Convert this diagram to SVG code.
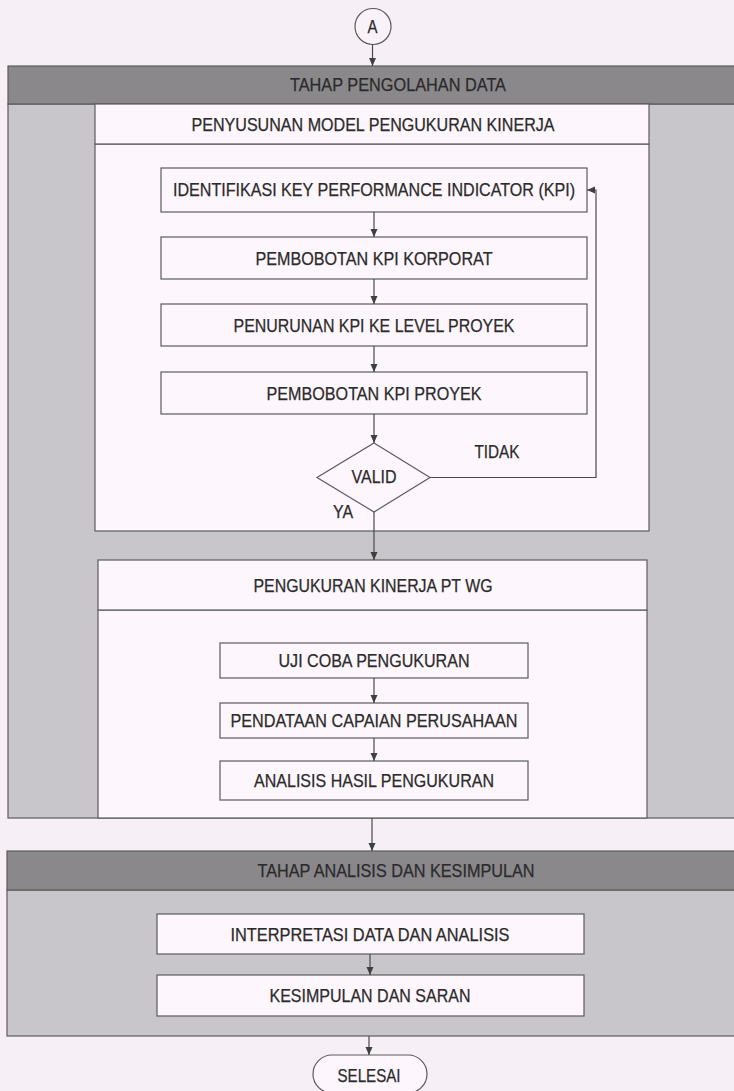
<svg xmlns="http://www.w3.org/2000/svg" width="734" height="1091" viewBox="0 0 734 1091">
  <defs>
    <style>
      .t{font-family:"Liberation Sans",Arial,sans-serif;font-size:18px;fill:#2b2b2b;text-anchor:middle;stroke:#2b2b2b;stroke-width:0.25}
      .box{fill:#fdf6fc;stroke:#5c5c5c;stroke-width:1.2}
      .band{fill:#8a888b;stroke:#5c5c5c;stroke-width:1.2}
      .panel{fill:#c9c6cb;stroke:#5c5c5c;stroke-width:1.2}
      .ln{stroke:#4a4a4a;stroke-width:1.2;fill:none}
    </style>
    <marker id="arr" markerUnits="userSpaceOnUse" markerWidth="8" markerHeight="8" refX="8" refY="4" orient="auto">
      <path d="M0,0.5 L8,4 L0,7.5 z" fill="#3f3f3f"/>
    </marker>
  </defs>

  <!-- page -->
  <rect x="0" y="0" width="734" height="1091" fill="#f7eff6"/>

  <!-- start connector -->
  <g id="start-a">
    <circle cx="373" cy="26.5" r="18" fill="#f9f2f8" stroke="#5c5c5c" stroke-width="1.2"/>
    <text class="t" x="372.5" y="32.5" font-size="16" textLength="10" lengthAdjust="spacingAndGlyphs">A</text>
  </g>

  <!-- stage: data processing -->
  <g id="stage-data">
    <rect class="panel" x="8" y="104" width="730" height="714"/>
    <rect class="band" x="8" y="66" width="730" height="38"/>
    <text class="t" x="398" y="91" textLength="216" lengthAdjust="spacingAndGlyphs">TAHAP PENGOLAHAN DATA</text>
  </g>

  <!-- model building container -->
  <g id="model-container">
    <rect class="box" x="95" y="144" width="554" height="387"/>
    <rect class="box" x="95" y="104" width="554" height="40"/>
    <text class="t" x="373" y="130.5" textLength="363" lengthAdjust="spacingAndGlyphs">PENYUSUNAN MODEL PENGUKURAN KINERJA</text>
  </g>

  <g id="kpi-identify">
    <rect class="box" x="161" y="168" width="426" height="44"/>
    <text class="t" x="374" y="196" textLength="402" lengthAdjust="spacingAndGlyphs">IDENTIFIKASI KEY PERFORMANCE INDICATOR (KPI)</text>
  </g>
  <g id="kpi-corporate-weight">
    <rect class="box" x="161" y="237" width="426" height="42"/>
    <text class="t" x="374" y="264.5" textLength="237" lengthAdjust="spacingAndGlyphs">PEMBOBOTAN KPI KORPORAT</text>
  </g>
  <g id="kpi-project-level">
    <rect class="box" x="161" y="304" width="426" height="42"/>
    <text class="t" x="374" y="331.5" textLength="281" lengthAdjust="spacingAndGlyphs">PENURUNAN KPI KE LEVEL PROYEK</text>
  </g>
  <g id="kpi-project-weight">
    <rect class="box" x="161" y="372" width="426" height="42"/>
    <text class="t" x="374" y="399.5" textLength="215" lengthAdjust="spacingAndGlyphs">PEMBOBOTAN KPI PROYEK</text>
  </g>
  <g id="valid-decision">
    <polygon class="box" points="374,443 430,477.5 374,512 317,477.5"/>
    <text class="t" x="374" y="483" textLength="45" lengthAdjust="spacingAndGlyphs">VALID</text>
  </g>

  <!-- performance measurement container -->
  <g id="measurement-container">
    <rect class="box" x="98" y="610" width="549" height="208"/>
    <rect class="box" x="98" y="560" width="549" height="50"/>
    <text class="t" x="373" y="591.5" textLength="239" lengthAdjust="spacingAndGlyphs">PENGUKURAN KINERJA PT WG</text>
  </g>
  <g id="trial-measure">
    <rect class="box" x="220" y="643" width="308" height="35"/>
    <text class="t" x="374" y="667" textLength="191" lengthAdjust="spacingAndGlyphs">UJI COBA PENGUKURAN</text>
  </g>
  <g id="achievement-data">
    <rect class="box" x="220" y="703" width="308" height="35"/>
    <text class="t" x="374" y="727" textLength="287" lengthAdjust="spacingAndGlyphs">PENDATAAN CAPAIAN PERUSAHAAN</text>
  </g>
  <g id="result-analysis">
    <rect class="box" x="220" y="761" width="308" height="39"/>
    <text class="t" x="374" y="787" textLength="240" lengthAdjust="spacingAndGlyphs">ANALISIS HASIL PENGUKURAN</text>
  </g>

  <!-- stage: analysis and conclusion -->
  <g id="stage-analysis">
    <rect class="panel" x="7" y="890" width="731" height="146"/>
    <rect class="band" x="7" y="851" width="731" height="39"/>
    <text class="t" x="396" y="877" textLength="277" lengthAdjust="spacingAndGlyphs">TAHAP ANALISIS DAN KESIMPULAN</text>
  </g>
  <g id="interpretation">
    <rect class="box" x="157" y="914" width="427" height="40"/>
    <text class="t" x="370" y="940.5" textLength="279" lengthAdjust="spacingAndGlyphs">INTERPRETASI DATA DAN ANALISIS</text>
  </g>
  <g id="conclusion">
    <rect class="box" x="157" y="975" width="427" height="41"/>
    <text class="t" x="370" y="1002" textLength="201" lengthAdjust="spacingAndGlyphs">KESIMPULAN DAN SARAN</text>
  </g>
  <g id="end">
    <rect class="box" x="313" y="1055" width="114" height="38" rx="19" ry="19"/>
    <text class="t" x="369" y="1082" textLength="63" lengthAdjust="spacingAndGlyphs">SELESAI</text>
  </g>

  <!-- connectors -->
  <g id="connectors">
    <line class="ln" x1="372.5" y1="44.5" x2="372.5" y2="66" marker-end="url(#arr)"/>
    <line class="ln" x1="374" y1="212" x2="374" y2="237" marker-end="url(#arr)"/>
    <line class="ln" x1="374" y1="279" x2="374" y2="304" marker-end="url(#arr)"/>
    <line class="ln" x1="374" y1="346" x2="374" y2="372" marker-end="url(#arr)"/>
    <line class="ln" x1="374" y1="414" x2="374" y2="443" marker-end="url(#arr)"/>
    <polyline class="ln" points="430,477.5 596,477.5 596,190 587,190" marker-end="url(#arr)"/>
    <text class="t" x="497" y="457.5" textLength="45" lengthAdjust="spacingAndGlyphs">TIDAK</text>
    <line class="ln" x1="374" y1="512" x2="374" y2="560" marker-end="url(#arr)"/>
    <text class="t" x="343" y="517.5" textLength="20" lengthAdjust="spacingAndGlyphs">YA</text>
    <line class="ln" x1="374" y1="678" x2="374" y2="703" marker-end="url(#arr)"/>
    <line class="ln" x1="374" y1="738" x2="374" y2="761" marker-end="url(#arr)"/>
    <line class="ln" x1="372" y1="818" x2="372" y2="851" marker-end="url(#arr)"/>
    <line class="ln" x1="370" y1="954" x2="370" y2="975" marker-end="url(#arr)"/>
    <line class="ln" x1="369" y1="1036" x2="369" y2="1055" marker-end="url(#arr)"/>
  </g>
</svg>
